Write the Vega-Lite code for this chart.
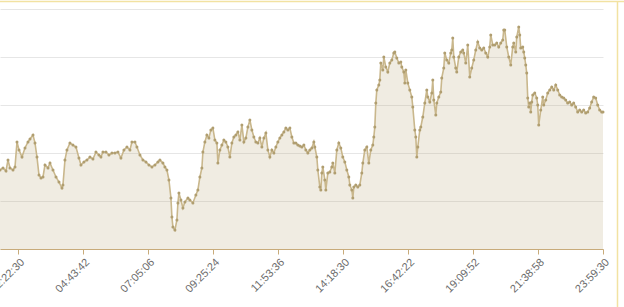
{
"$schema": "https://vega.github.io/schema/vega-lite/v6.json",
"width": 603, "height": 240,
"autosize": {"type": "none"},
"padding": {"left": 0, "top": 9, "right": 21, "bottom": 58},
"background": "#ffffff",
"config": {"view": {"stroke": null}},
"data": {"values": [
{"t":0,"v":32.9},{"t":3,"v":33.8},{"t":6,"v":32.5},{"t":8,"v":37.1},{"t":10,"v":33.8},{"t":13,"v":32.9},{"t":15,"v":34.2},{"t":17,"v":44.6},{"t":19,"v":41.3},{"t":22,"v":38.3},{"t":25,"v":42.1},{"t":28,"v":44.6},{"t":30,"v":45.8},{"t":33,"v":47.5},{"t":35,"v":44.2},{"t":37,"v":38.3},{"t":39,"v":30.8},{"t":41,"v":29.6},{"t":43,"v":30},{"t":45,"v":35},{"t":48,"v":33.8},{"t":50,"v":35.8},{"t":53,"v":32.9},{"t":56,"v":30},{"t":59,"v":27.9},{"t":62,"v":25.4},{"t":63,"v":26.7},{"t":65,"v":37.1},{"t":67,"v":41.3},{"t":70,"v":44.2},{"t":73,"v":43.3},{"t":76,"v":42.5},{"t":79,"v":37.9},{"t":81,"v":35},{"t":84,"v":36.3},{"t":87,"v":37.1},{"t":90,"v":38.3},{"t":93,"v":37.5},{"t":96,"v":40.4},{"t":99,"v":39.2},{"t":101,"v":38.3},{"t":103,"v":40.4},{"t":106,"v":40.4},{"t":109,"v":39.2},{"t":112,"v":40},{"t":115,"v":40},{"t":118,"v":40.4},{"t":121,"v":37.9},{"t":124,"v":41.3},{"t":127,"v":42.5},{"t":130,"v":41.3},{"t":132,"v":44.6},{"t":135,"v":44.6},{"t":137,"v":42.5},{"t":140,"v":39.2},{"t":143,"v":37.1},{"t":146,"v":36.3},{"t":149,"v":35},{"t":152,"v":34.2},{"t":155,"v":35},{"t":158,"v":36.3},{"t":160,"v":37.1},{"t":163,"v":35.8},{"t":165,"v":34.2},{"t":167,"v":32.9},{"t":169,"v":28.8},{"t":171,"v":21.3},{"t":172,"v":13.3},{"t":173,"v":9.2},{"t":175,"v":7.9},{"t":177,"v":12.1},{"t":178,"v":19.2},{"t":179,"v":23.3},{"t":181,"v":20.4},{"t":183,"v":17.1},{"t":185,"v":19.6},{"t":188,"v":21.3},{"t":190,"v":20.4},{"t":193,"v":19.2},{"t":196,"v":22.5},{"t":198,"v":24.6},{"t":200,"v":30},{"t":202,"v":33.8},{"t":203,"v":40.4},{"t":205,"v":44.6},{"t":207,"v":47.5},{"t":209,"v":46.3},{"t":211,"v":49.6},{"t":213,"v":50.4},{"t":215,"v":45.4},{"t":217,"v":44.2},{"t":218,"v":35.8},{"t":220,"v":41.3},{"t":222,"v":43.3},{"t":224,"v":45.4},{"t":226,"v":44.6},{"t":228,"v":42.5},{"t":230,"v":38.3},{"t":232,"v":44.2},{"t":234,"v":46.7},{"t":236,"v":47.5},{"t":238,"v":48.8},{"t":240,"v":45.4},{"t":242,"v":51.7},{"t":244,"v":44.6},{"t":246,"v":46.3},{"t":248,"v":50.8},{"t":250,"v":53.8},{"t":252,"v":49.6},{"t":254,"v":46.7},{"t":256,"v":44.6},{"t":258,"v":44.2},{"t":260,"v":46.3},{"t":262,"v":42.5},{"t":264,"v":46.3},{"t":266,"v":48.3},{"t":268,"v":41.3},{"t":270,"v":38.3},{"t":272,"v":41.3},{"t":274,"v":40},{"t":276,"v":42.5},{"t":278,"v":44.6},{"t":280,"v":46.3},{"t":282,"v":47.5},{"t":284,"v":48.8},{"t":286,"v":50.4},{"t":288,"v":49.6},{"t":290,"v":50.4},{"t":292,"v":46.7},{"t":294,"v":44.2},{"t":296,"v":44.2},{"t":298,"v":43.3},{"t":300,"v":42.9},{"t":302,"v":42.5},{"t":304,"v":43.3},{"t":306,"v":41.3},{"t":308,"v":40},{"t":310,"v":41.3},{"t":312,"v":42.1},{"t":314,"v":44.6},{"t":315,"v":42.5},{"t":317,"v":38.3},{"t":318,"v":32.9},{"t":320,"v":25.8},{"t":321,"v":24.6},{"t":322,"v":31.7},{"t":323,"v":34.2},{"t":325,"v":28.8},{"t":326,"v":24.6},{"t":328,"v":31.7},{"t":330,"v":32.1},{"t":332,"v":34.2},{"t":333,"v":35.8},{"t":335,"v":31.7},{"t":337,"v":41.3},{"t":339,"v":44.2},{"t":341,"v":42.1},{"t":343,"v":38.3},{"t":345,"v":36.3},{"t":347,"v":32.9},{"t":349,"v":30},{"t":350,"v":26.7},{"t":352,"v":24.6},{"t":353,"v":21.3},{"t":354,"v":25.8},{"t":356,"v":26.7},{"t":358,"v":25.8},{"t":360,"v":26.7},{"t":362,"v":31.7},{"t":363,"v":35.8},{"t":365,"v":41.3},{"t":367,"v":42.5},{"t":369,"v":35.8},{"t":371,"v":41.3},{"t":373,"v":43.3},{"t":374,"v":46.7},{"t":375,"v":50.8},{"t":376,"v":60.8},{"t":377,"v":66.3},{"t":379,"v":68.3},{"t":380,"v":70.4},{"t":381,"v":77.5},{"t":383,"v":74.6},{"t":384,"v":80},{"t":386,"v":75.8},{"t":388,"v":73.8},{"t":390,"v":77.5},{"t":392,"v":78.8},{"t":394,"v":81.7},{"t":395,"v":82.1},{"t":397,"v":79.6},{"t":399,"v":77.5},{"t":401,"v":77.9},{"t":402,"v":75.8},{"t":404,"v":73.8},{"t":405,"v":69.2},{"t":406,"v":74.6},{"t":408,"v":69.2},{"t":410,"v":66.3},{"t":412,"v":63.3},{"t":413,"v":59.2},{"t":415,"v":49.6},{"t":416,"v":46.7},{"t":417,"v":38.3},{"t":418,"v":42.5},{"t":420,"v":49.6},{"t":421,"v":50.8},{"t":423,"v":55},{"t":425,"v":60.8},{"t":427,"v":66.3},{"t":428,"v":63.3},{"t":430,"v":61.3},{"t":432,"v":65},{"t":433,"v":70.4},{"t":434,"v":62.1},{"t":436,"v":55.8},{"t":437,"v":60.8},{"t":439,"v":63.3},{"t":441,"v":65.4},{"t":442,"v":71.3},{"t":444,"v":75.4},{"t":445,"v":81.7},{"t":447,"v":78.8},{"t":449,"v":77.5},{"t":451,"v":81.7},{"t":452,"v":82.9},{"t":453,"v":87.9},{"t":454,"v":80},{"t":456,"v":75.4},{"t":457,"v":73.8},{"t":459,"v":80},{"t":461,"v":82.1},{"t":463,"v":82.9},{"t":464,"v":81.7},{"t":466,"v":77.5},{"t":468,"v":85},{"t":470,"v":71.7},{"t":472,"v":75.4},{"t":474,"v":78.8},{"t":476,"v":82.9},{"t":478,"v":86.3},{"t":480,"v":83.8},{"t":482,"v":82.9},{"t":484,"v":83.8},{"t":486,"v":81.7},{"t":488,"v":80},{"t":490,"v":84.2},{"t":491,"v":89.2},{"t":493,"v":85},{"t":495,"v":85},{"t":497,"v":85.8},{"t":499,"v":84.2},{"t":501,"v":85.8},{"t":503,"v":87.1},{"t":504,"v":91.3},{"t":505,"v":91.3},{"t":507,"v":84.2},{"t":509,"v":80},{"t":511,"v":76.7},{"t":513,"v":84.2},{"t":514,"v":85.8},{"t":516,"v":82.1},{"t":517,"v":88.3},{"t":519,"v":92.5},{"t":520,"v":89.2},{"t":521,"v":83.8},{"t":523,"v":84.2},{"t":524,"v":82.1},{"t":525,"v":79.6},{"t":526,"v":76.7},{"t":527,"v":73.3},{"t":528,"v":62.9},{"t":529,"v":59.2},{"t":530,"v":60.8},{"t":531,"v":57.1},{"t":532,"v":61.3},{"t":533,"v":64.2},{"t":535,"v":65},{"t":537,"v":62.9},{"t":538,"v":60},{"t":539,"v":51.7},{"t":541,"v":57.9},{"t":543,"v":63.3},{"t":544,"v":60},{"t":546,"v":62.1},{"t":548,"v":65},{"t":550,"v":66.3},{"t":552,"v":67.5},{"t":554,"v":66.3},{"t":556,"v":68.3},{"t":558,"v":66.3},{"t":560,"v":64.2},{"t":562,"v":63.3},{"t":564,"v":62.9},{"t":566,"v":62.1},{"t":568,"v":60.8},{"t":570,"v":61.3},{"t":572,"v":60},{"t":574,"v":60.8},{"t":576,"v":59.2},{"t":578,"v":57.1},{"t":580,"v":57.9},{"t":582,"v":57.1},{"t":584,"v":57.9},{"t":586,"v":56.7},{"t":588,"v":57.1},{"t":590,"v":58.8},{"t":592,"v":61.3},{"t":594,"v":63.3},{"t":596,"v":62.9},{"t":598,"v":60},{"t":600,"v":57.9},{"t":602,"v":57.1},{"t":603.3,"v":57.1}
]},
"layer": [
{"mark": {"type": "area", "color": "#b4a070", "opacity": 0.2, "interpolate": "linear"},
 "encoding": {
  "x": {"field": "t", "type": "quantitative",
   "scale": {"domain": [0, 603.3], "nice": false, "zero": false},
   "axis": {"values": [18.3, 83.3, 148.3, 213.3, 278.3, 343.3, 408.3, 473.3, 538.3, 603.3],
    "labelExpr": "['02:22:30','04:43:42','07:05:06','09:25:24','11:53:36','14:18:30','16:42:22','19:09:52','21:38:58','23:59:30'][round((datum.value-18.3)/65)]",
    "labelAngle": -45, "title": null, "grid": false, "domainColor": "#c8ab7a", "tickColor": "#c8ab7a", "tickSize": 5,
    "labelColor": "#6b6b6b", "labelFontSize": 11, "labelFont": "Liberation Sans", "labelOverlap": false, "labelFlush": false, "labelPadding": 2}},
  "y": {"field": "v", "type": "quantitative",
   "scale": {"domain": [0, 100], "nice": false},
   "axis": {"values": [0, 20, 40, 60, 80, 100], "labels": false, "ticks": false, "domain": false, "title": null, "grid": true, "gridColor": "#e6e6e6"}}
 }},
{"mark": {"type": "line", "color": "#c9b78c", "strokeWidth": 1.6},
 "encoding": {"x": {"field": "t", "type": "quantitative"}, "y": {"field": "v", "type": "quantitative"}}},
{"mark": {"type": "point", "filled": true, "color": "#b09e70", "size": 9, "opacity": 1},
 "encoding": {"x": {"field": "t", "type": "quantitative"}, "y": {"field": "v", "type": "quantitative"}}},
{"data": {"values": [{}]},
 "mark": {"type": "rule", "color": "#f2e2a2", "strokeWidth": 1.5},
 "encoding": {"x": {"datum": 0}, "x2": {"datum": 640}, "y": {"datum": 103.1}}},
{"data": {"values": [{}]},
 "mark": {"type": "rule", "color": "#f2e2a2", "strokeWidth": 1.5},
 "encoding": {"x": {"datum": 617.8}, "y": {"datum": 103.1}, "y2": {"datum": -25}}}
]
}
